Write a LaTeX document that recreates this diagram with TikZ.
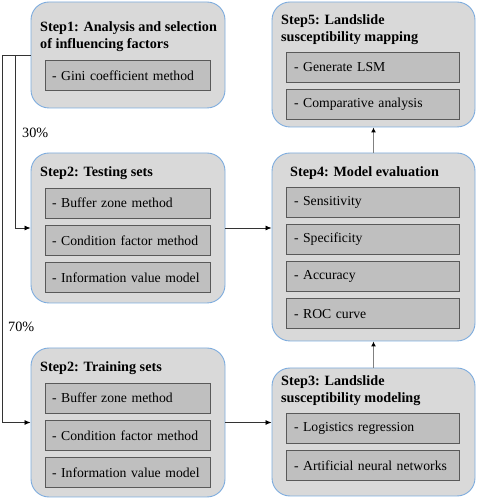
\documentclass[tikz,border=0pt]{standalone}
\usepackage{fontspec}
\setmainfont{Liberation Serif}
\usetikzlibrary{positioning, arrows.meta}
\definecolor{boxgray}{RGB}{217,217,217}
\definecolor{itemgray}{RGB}{191,191,191}
\definecolor{edgeblue}{RGB}{125,172,222}
\definecolor{itemedge}{RGB}{89,89,89}
\definecolor{linegray}{RGB}{128,128,128}

\begin{document}
\begin{tikzpicture}[x=1pt, y=1pt, node distance=6.5pt, font=\fontsize{14.2}{17.5}\selectfont]
    % Define styles
    \tikzstyle{stepbox} = [rectangle, draw=edgeblue, line width=0.9pt, fill=boxgray, rounded corners=18pt]
    \tikzstyle{heading} = [anchor=base west, inner sep=0pt, align=left, font=\fontsize{14.2}{17.5}\selectfont\bfseries]
    \tikzstyle{itembox} = [rectangle, draw=itemedge, line width=0.8pt, fill=itemgray, minimum height=30pt, inner xsep=7pt, text width=151pt, align=left, font=\fontsize{13.7}{16}\selectfont]
    \tikzstyle{itemwide} = [itembox, inner xsep=8pt, text width=157pt]
    \tikzstyle{arrow} = [black!80, line width=0.8pt, -{Latex[length=6pt, width=5pt, black]}]
    \tikzstyle{uparrow} = [linegray, line width=1.6pt, -{Latex[length=5pt, width=5pt, black]}]

    \useasboundingbox (0,0) rectangle (477,500);

    % Step boxes
    \node (s1) [stepbox, minimum width=194pt, minimum height=106pt] at (128,445) {};
    \node (s2test) [stepbox, minimum width=194pt, minimum height=150pt] at (128,272) {};
    \node (s2train) [stepbox, minimum width=194pt, minimum height=149pt] at (128,77.5) {};
    \node (s5) [stepbox, minimum width=203pt, minimum height=125pt] at (373.5,435.5) {};
    \node (s4) [stepbox, minimum width=203pt, minimum height=188pt] at (373.5,253) {};
    \node (s3) [stepbox, minimum width=203pt, minimum height=128pt] at (373.5,68) {};

    % Headings (base = last line)
    \node (h1) [heading] at (40,451) {Step1: Analysis and selection\\of influencing factors};
    \node (h2test) [heading] at (40,323) {Step2: Testing sets};
    \node (h2train) [heading] at (40,128.5) {Step2: Training sets};
    \node (h5) [heading] at (281,458) {Step5: Landslide\\susceptibility mapping};
    \node (h4) [heading] at (290,323) {Step4: Model evaluation};
    \node (h3) [heading] at (281,97) {Step3: Landslide\\susceptibility modeling};

    % Items
    \node (gini) [itembox] at (127.5,424.5) {- Gini coefficient method};

    \node (te1) [itembox] at (127.5,297) {- Buffer zone method};
    \node (te2) [itembox, below=of te1] {- Condition factor method};
    \node (te3) [itembox, below=of te2] {- Information value model};

    \node (tr1) [itembox] at (127.5,102) {- Buffer zone method};
    \node (tr2) [itembox, below=of tr1] {- Condition factor method};
    \node (tr3) [itembox, below=of tr2] {- Information value model};

    \node (map1) [itemwide] at (372.5,433) {- Generate LSM};
    \node (map2) [itemwide, below=of map1] {- Comparative analysis};

    \node (ev1) [itemwide] at (372.5,298) {- Sensitivity};
    \node (ev2) [itemwide, below=of ev1] {- Specificity};
    \node (ev3) [itemwide, below=of ev2] {- Accuracy};
    \node (ev4) [itemwide, below=of ev3] {- ROC curve};

    \node (mod1) [itemwide] at (372.5,72) {- Logistics regression};
    \node (mod2) [itemwide, below=of mod1] {- Artificial neural networks};

    % Split labels
    \node (p30) [anchor=west, inner sep=0pt] at (22,367.5) {30\%};
    \node (p70) [anchor=west, inner sep=0pt] at (8,173) {70\%};

    % Arrows
    \draw [arrow] (s1.west) -- ++(-15.5,0) |- (s2test.west);
    \draw [arrow] (s1.west) -- ++(-28,0) |- (s2train.west);
    \draw [arrow] (s2test.east) -- (s2test.east -| s4.west);
    \draw [arrow] (s2train.east) -- (s2train.east -| s3.west);
    \draw [uparrow] (s3) -- (s4);
    \draw [uparrow] (s4) -- (s5);
\end{tikzpicture}
\end{document}
